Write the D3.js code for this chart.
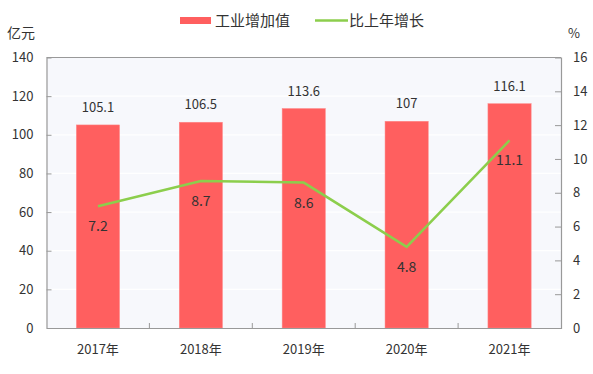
<!DOCTYPE html>
<html><head><meta charset="utf-8">
<script src="https://cdn.jsdelivr.net/npm/d3@7"></script>
<style>body{margin:0;background:#fff;}text{font-family:"Microsoft YaHei","Noto Sans CJK SC",sans-serif;fill:#333;}</style>
</head><body><svg id="c" width="593" height="374"></svg>
<script>
const categories = ["2017年","2018年","2019年","2020年","2021年"];
const valueAdded = [105.1,106.5,113.6,107,116.1];
const growth = [7.2,8.7,8.6,4.8,11.1];
const leftTicks = [0,20,40,60,80,100,120,140];
const rightTicks = [0,2,4,6,8,10,12,14,16];

const svg = d3.select("#c");
const L=46.5, R=561, T=57.5, B=328;
const x = d3.scaleBand().domain(categories).range([L,R]);
const yL = d3.scaleLinear().domain([0,140]).range([B,T]);
const yR = d3.scaleLinear().domain([0,16]).range([B,T]);

svg.append("rect").attr("x",L).attr("y",T).attr("width",R-L).attr("height",B-T).attr("fill","#f7f8fc");
svg.append("g").selectAll("line").data(leftTicks.slice(1,-1)).join("line")
  .attr("x1",L).attr("x2",R).attr("y1",d=>yL(d)).attr("y2",d=>yL(d))
  .attr("stroke","#ffffff").attr("stroke-width",1.2);

const bw = x.bandwidth()*0.42;
svg.append("g").selectAll("rect").data(valueAdded).join("rect")
  .attr("x",(d,i)=>x(categories[i])+x.bandwidth()/2-bw/2)
  .attr("y",d=>yL(d)).attr("width",bw).attr("height",d=>B-yL(d))
  .attr("fill","#ff5f5f").attr("stroke","#ff8a8a").attr("stroke-width",0.5);

svg.append("g").selectAll("text").data(valueAdded).join("text")
  .attr("x",(d,i)=>x(categories[i])+x.bandwidth()/2).attr("y",d=>yL(d)-13)
  .attr("text-anchor","middle").attr("font-size",13).text(d=>d);

// Axes
const axL = svg.append("g").attr("transform",`translate(${L},0)`)
  .call(d3.axisLeft(yL).tickValues(leftTicks).tickSize(-5).tickPadding(13));
const axR = svg.append("g").attr("transform",`translate(${R},0)`)
  .call(d3.axisRight(yR).tickValues(rightTicks).tickSize(-6).tickPadding(12));
const axB = svg.append("g").attr("transform",`translate(0,${B})`)
  .call(d3.axisBottom(x).tickSize(0).tickPadding(17));
[axL,axR,axB].forEach(a=>{
  a.select(".domain").attr("stroke","#999").attr("stroke-width",1.2);
  a.selectAll(".tick line").attr("stroke","#999");
  a.selectAll(".tick text").attr("font-size",13).attr("fill","#333").style("font-family",'"Microsoft YaHei","Noto Sans CJK SC",sans-serif');
});
axL.selectAll(".tick").filter(d=>d===0||d===140).select("line").remove();
axR.selectAll(".tick").filter(d=>d===0||d===16).select("line").remove();
// bottom inward ticks between categories
svg.append("g").selectAll("line").data(categories.slice(1)).join("line")
  .attr("x1",d=>x(d)).attr("x2",d=>x(d)).attr("y1",B).attr("y2",B-5).attr("stroke","#999");
// top border
svg.append("line").attr("x1",L).attr("x2",R).attr("y1",T).attr("y2",T).attr("stroke","#999").attr("stroke-width",1.2);

// line
const line = d3.line().x((d,i)=>x(categories[i])+x.bandwidth()/2).y(d=>yR(d));
svg.append("path").datum(growth).attr("d",line).attr("fill","none").attr("stroke","#8cce4c").attr("stroke-width",2.5);
svg.append("g").selectAll("text").data(growth).join("text")
  .attr("x",(d,i)=>x(categories[i])+x.bandwidth()/2).attr("y",d=>yR(d)+25)
  .attr("text-anchor","middle").attr("font-size",14).text(d=>d);

// axis titles
svg.append("text").attr("x",7).attr("y",38).attr("font-size",14).text("亿元");
svg.append("text").attr("x",568).attr("y",38).attr("font-size",13).text("%");

// legend
svg.append("rect").attr("x",180).attr("y",17).attr("width",31).attr("height",7).attr("fill","#ff5f5f");
svg.append("text").attr("x",215).attr("y",26).attr("font-size",15).text("工业增加值");
svg.append("line").attr("x1",315).attr("x2",348).attr("y1",20.5).attr("y2",20.5).attr("stroke","#8cce4c").attr("stroke-width",2.5);
svg.append("text").attr("x",349).attr("y",26).attr("font-size",15).text("比上年增长");
</script></body></html>
